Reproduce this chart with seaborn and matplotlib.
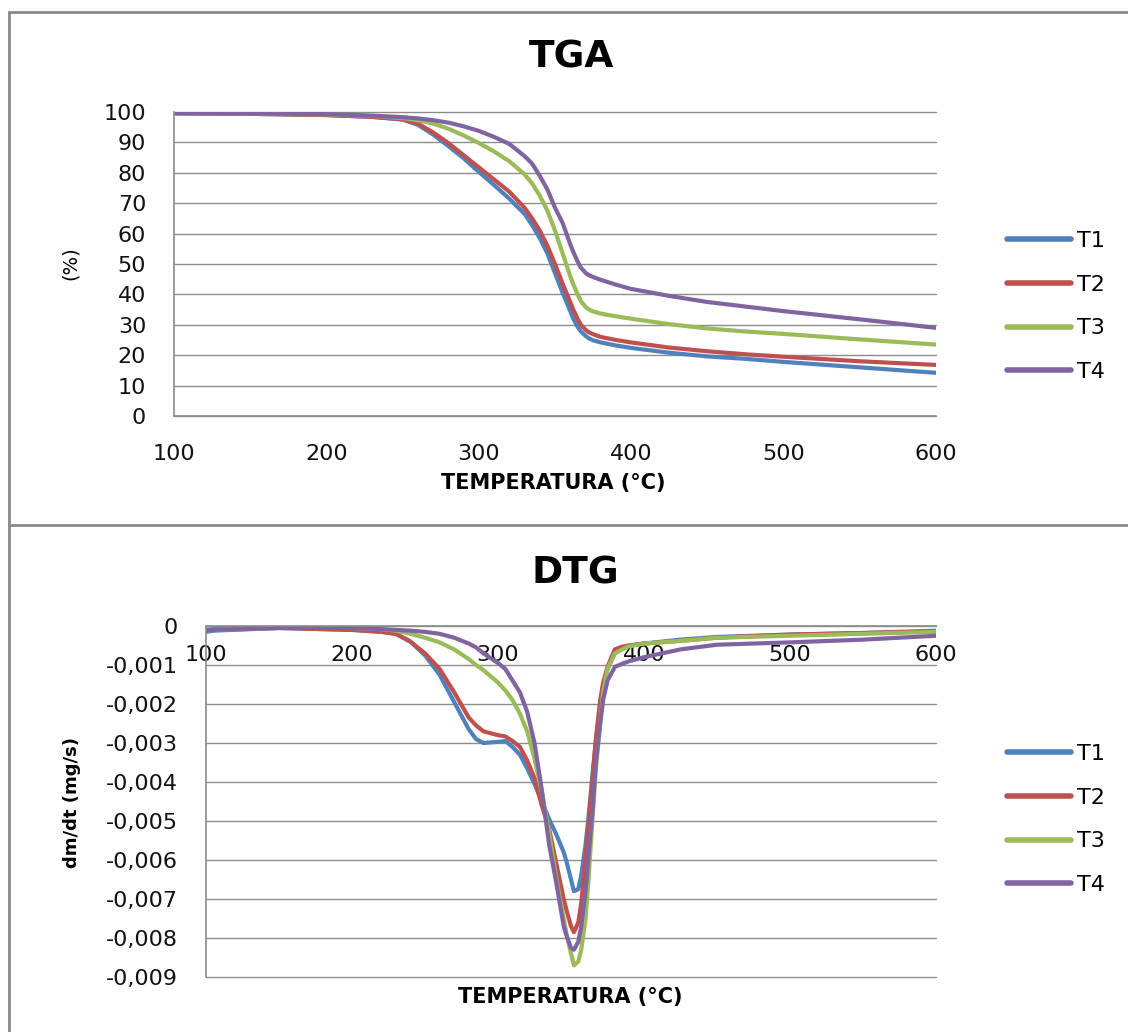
import numpy as np
import pandas as pd
import seaborn as sns
import matplotlib.pyplot as plt
from matplotlib.lines import Line2D
from matplotlib.ticker import FuncFormatter

# TGA curves (% mass remaining vs temperature in degC)
tga_temp = [100, 150, 200, 230, 250, 260, 270, 280, 290, 300, 310, 320, 330, 335,
            340, 345, 350, 355, 360, 362, 365, 367, 370, 372, 375, 380, 385, 390,
            400, 425, 450, 475, 500, 550, 600]
tga_t1 = [99.6, 99.4, 99.0, 98.4, 97.5, 95.8, 92.6, 88.8, 84.8, 80.3, 76.0, 71.5,
          66.5, 62.8, 58.5, 53.5, 47.0, 40.5, 34.5, 32.0, 29.2, 27.8, 26.4, 25.6,
          24.9, 24.2, 23.7, 23.2, 22.4, 20.8, 19.6, 18.8, 17.8, 16.0, 14.2]
tga_t2 = [99.6, 99.4, 99.0, 98.4, 97.6, 96.2, 93.3, 89.8, 85.8, 81.8, 77.8, 73.8,
          68.5, 65.0, 61.0, 56.0, 50.0, 43.5, 37.5, 35.0, 31.8, 30.0, 28.4, 27.6,
          26.9, 26.0, 25.5, 25.0, 24.2, 22.5, 21.3, 20.3, 19.5, 18.0, 16.8]
tga_t3 = [99.6, 99.5, 99.2, 98.7, 98.0, 97.3, 96.2, 94.5, 92.3, 89.8, 87.0, 83.8,
          79.5, 76.5, 72.5, 67.5, 61.0, 53.5, 46.0, 43.3, 39.8, 37.8, 35.9, 35.1,
          34.4, 33.7, 33.2, 32.8, 32.0, 30.2, 28.8, 27.8, 27.0, 25.2, 23.5]
tga_t4 = [99.6, 99.5, 99.3, 98.8, 98.3, 97.9, 97.3, 96.5, 95.3, 93.8, 91.8, 89.5,
          85.5, 83.0, 79.0, 74.5, 68.5, 63.5, 56.5, 54.0, 50.6, 48.8, 47.1, 46.4,
          45.7, 44.8, 44.0, 43.2, 41.8, 39.5, 37.5, 36.0, 34.5, 31.8, 29.0]

# DTG curves (values in 1e-3 mg/s)
dtg_temp = [100, 105, 150, 200, 220, 230, 240, 250, 260, 270, 280, 285, 290, 300,
            305, 310, 315, 320, 325, 330, 335, 340, 345, 347, 350, 352, 355, 357,
            360, 362, 365, 367, 370, 372, 375, 380, 385, 390, 400, 425, 450, 500,
            550, 600]
dtg_t1 = [-0.15, -0.12, -0.05, -0.1, -0.15, -0.2, -0.4, -0.75, -1.25, -1.95, -2.65,
          -2.9, -3.0, -2.97, -2.95, -3.1, -3.3, -3.65, -4.05, -4.5, -4.95, -5.35,
          -5.8, -6.05, -6.5, -6.8, -6.75, -6.4, -5.6, -4.9, -3.7, -3.0, -2.0, -1.6,
          -1.1, -0.7, -0.58, -0.5, -0.45, -0.35, -0.28, -0.22, -0.18, -0.12]
dtg_t2 = [-0.1, -0.08, -0.05, -0.1, -0.15, -0.2, -0.4, -0.7, -1.1, -1.7, -2.35,
          -2.55, -2.7, -2.8, -2.83, -2.95, -3.1, -3.45, -3.9, -4.6, -5.2, -6.1,
          -7.0, -7.3, -7.7, -7.85, -7.6, -7.1, -6.0, -5.1, -3.8, -2.9, -1.9, -1.45,
          -1.05, -0.6, -0.53, -0.5, -0.45, -0.38, -0.3, -0.22, -0.18, -0.14]
dtg_t3 = [-0.1, -0.1, -0.05, -0.05, -0.08, -0.12, -0.2, -0.3, -0.42, -0.6, -0.85,
          -1.0, -1.13, -1.45, -1.65, -1.9, -2.25, -2.7, -3.4, -4.25, -5.3, -6.5,
          -7.5, -7.9, -8.4, -8.7, -8.6, -8.3, -7.5, -6.5, -4.8, -3.7, -2.5, -1.7,
          -1.1, -0.7, -0.6, -0.52, -0.45, -0.38, -0.3, -0.25, -0.2, -0.15]
dtg_t4 = [-0.1, -0.1, -0.05, -0.05, -0.08, -0.1, -0.12, -0.15, -0.2, -0.3, -0.45,
          -0.55, -0.7, -0.95, -1.1, -1.4, -1.7, -2.2, -3.0, -4.2, -5.6, -6.6, -7.7,
          -7.95, -8.25, -8.3, -8.1, -7.7, -6.8, -5.9, -4.6, -3.5, -2.5, -1.9, -1.4,
          -1.05, -0.97, -0.9, -0.8, -0.6, -0.48, -0.42, -0.35, -0.25]

series = ['T1', 'T2', 'T3', 'T4']
colors = ['#4F81BD', '#C0504D', '#9BBB59', '#8064A2']
grid_col = '#8c8c8c'

def to_long(temp, cols, scale=1.0):
    frames = []
    for name, vals in zip(series, cols):
        frames.append(pd.DataFrame({'temp': temp,
                                    'val': np.array(vals) * scale,
                                    'serie': name}))
    return pd.concat(frames, ignore_index=True)

df_tga = to_long(tga_temp, [tga_t1, tga_t2, tga_t3, tga_t4])
df_dtg = to_long(dtg_temp, [dtg_t1, dtg_t2, dtg_t3, dtg_t4], 1e-3)

sns.set_theme(style="white")
plt.rcParams['font.family'] = ['DejaVu Sans']
plt.rcParams['text.color'] = 'black'

W, H = 1128, 1032
fig = plt.figure(figsize=(W / 100, H / 100), dpi=100)

def fbox(x0, y0, x1, y1):
    return [x0 / W, 1 - y1 / H, (x1 - x0) / W, (y1 - y0) / H]

ax1 = fig.add_axes(fbox(174, 112, 936, 416))
ax2 = fig.add_axes(fbox(206, 626, 936, 977))

for ax, df in ((ax1, df_tga), (ax2, df_dtg)):
    sns.lineplot(data=df, x='temp', y='val', hue='serie', palette=colors,
                 linewidth=3, ax=ax, sort=False)
    ax.set_xlabel('')
    ax.set_ylabel('')
    ax.set_xlim(100, 600)
    ax.set_xticks(range(100, 601, 100))
    ax.grid(axis='y', color=grid_col, lw=1)
    ax.grid(axis='x', visible=False)
    for s in ('top', 'right'):
        ax.spines[s].set_visible(False)
    for s in ('left', 'bottom'):
        ax.spines[s].set_color(grid_col)
        ax.spines[s].set_linewidth(1.2)
    ax.tick_params(length=0, pad=20, labelsize=16, colors='#111111')
    for ln in ax.get_lines():
        ln.set_solid_joinstyle('round')
        ln.set_solid_capstyle('round')

ax1.set_ylim(0, 100)
ax1.set_yticks(range(0, 101, 10))

ax2.set_ylim(-0.009, 0)
ax2.set_yticks(np.arange(-9, 1) * 0.001)
ax2.spines['bottom'].set_position(('data', 0))
ax2.yaxis.set_major_formatter(
    FuncFormatter(lambda v, p: '0' if abs(v) < 1e-9 else f'{v:.3f}'.replace('.', ',')))
ax2.tick_params(axis='x', pad=14)
for ax in (ax1, ax2):
    for gl in ax.get_ygridlines():
        gl.set_clip_on(False)

# legends
leg_y = {ax1: (242 + 371) / 2, ax2: (755 + 884) / 2}
for ax in (ax1, ax2):
    sns.move_legend(ax, 'center left', bbox_to_anchor=(1007 / W, 1 - leg_y[ax] / H),
                    bbox_transform=fig.transFigure, title=None, frameon=False,
                    fontsize=16, handlelength=2.9, handletextpad=0.25,
                    labelspacing=1.07, borderpad=0, borderaxespad=0)
    for h in ax.get_legend().legend_handles:
        h.set_linewidth(4)
        h.set_solid_capstyle('round')

# titles and axis labels
fig.text(572 / W, 1 - 58 / H, 'TGA', ha='center', va='center', fontsize=27,
         fontweight='bold')
fig.text(575 / W, 1 - 573 / H, 'DTG', ha='center', va='center', fontsize=27,
         fontweight='bold')
fig.text(553 / W, 1 - 483 / H, 'TEMPERATURA (°C)', ha='center', va='center',
         fontsize=15, fontweight='bold')
fig.text(570 / W, 1 - 997 / H, 'TEMPERATURA (°C)', ha='center', va='center',
         fontsize=15, fontweight='bold')
fig.text(70 / W, 1 - 263 / H, '(%)', ha='center', va='center', fontsize=14,
         rotation=90)
fig.text(72 / W, 1 - 802 / H, 'dm/dt (mg/s)', ha='center', va='center', fontsize=13,
         fontweight='bold', rotation=90)

# outer frame of the two chart panels
frame_kw = dict(color='#8a8a8a', lw=2, transform=fig.transFigure)
fig.add_artist(Line2D([9 / W, 9 / W], [0, 1 - 12 / H], **frame_kw))
fig.add_artist(Line2D([9 / W, 1], [1 - 12 / H, 1 - 12 / H], **frame_kw))
fig.add_artist(Line2D([9 / W, 1], [1 - 525 / H, 1 - 525 / H], **frame_kw))

fig.savefig('out.png', dpi=100, facecolor='white')
